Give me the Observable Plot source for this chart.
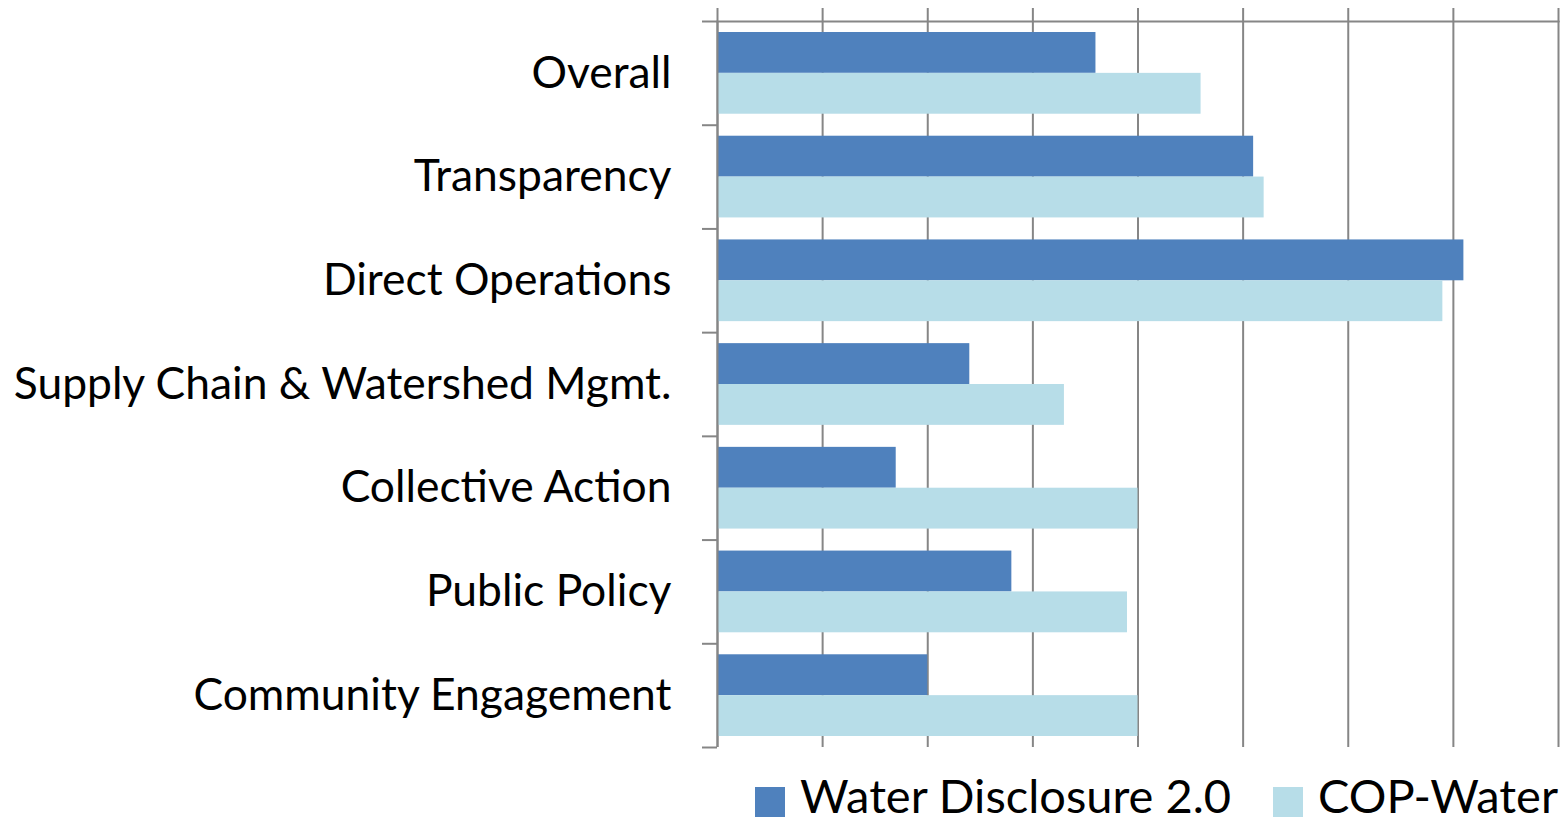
<!DOCTYPE html>
<html>
<head>
<meta charset="utf-8">
<script src="https://cdn.jsdelivr.net/npm/d3@7"></script>
<script src="https://cdn.jsdelivr.net/npm/@observablehq/plot@0.6"></script>
<style>
  html, body { margin: 0; padding: 0; background: #fff; overflow: hidden; }
  #chart { width: 1561px; }
  .legend { display: flex; justify-content: flex-end; align-items: center; height: 70px;
            font-family: Lato, "Open Sans", sans-serif; font-size: 47px; line-height: 1; color: #000; padding-right: 3px; }
  .legend .item { display: flex; align-items: center; margin-left: 42px; }
  .legend .sw { width: 30px; height: 30px; margin-right: 15px; margin-top: 14px; }
</style>
</head>
<body>
<div id="chart"></div>
<script>
const categories = ["Overall", "Transparency", "Direct Operations", "Supply Chain & Watershed Mgmt.", "Collective Action", "Public Policy", "Community Engagement"];
const seriesNames = ["Water Disclosure 2.0", "COP-Water"];
const waterDisclosure = [3.6, 5.1, 7.1, 2.4, 1.7, 2.8, 2.0];
const copWater = [4.6, 5.2, 6.9, 3.3, 4.0, 3.9, 4.0];
const seriesColors = ["#4F81BD", "#B7DDE8"];
const xTicks = [0, 1, 2, 3, 4, 5, 6, 7, 8];

const rows = [];
categories.forEach((c, i) => {
  rows.push({category: c, series: seriesNames[0], value: waterDisclosure[i]});
  rows.push({category: c, series: seriesNames[1], value: copWater[i]});
});

const W = 1561, H = 760, mt = 21, mb = 13, ml = 717, mr = 3;
const step = (H - mt - mb) / categories.length;
const gap = 11;
const barH = (step - 2 * gap) / 2;
const gridColor = "#868686";

const plot = Plot.plot({
  width: W, height: H,
  marginTop: mt, marginBottom: mb, marginLeft: ml, marginRight: mr,
  style: {fontFamily: "Lato, 'Open Sans', sans-serif", fontSize: "44px", color: "#000", background: "#fff"},
  x: {domain: [0, 8], axis: null, label: null},
  y: {domain: categories, padding: 0, round: false, axis: null, label: null},
  color: {domain: seriesNames, range: seriesColors},
  marks: [
    Plot.gridX(xTicks, {stroke: gridColor, strokeOpacity: 1, strokeWidth: 2}),
    Plot.barX(rows.filter(d => d.series === seriesNames[0]), {
      y: "category", x: "value", fill: "series",
      insetTop: gap, insetBottom: gap + barH
    }),
    Plot.barX(rows.filter(d => d.series === seriesNames[1]), {
      y: "category", x: "value", fill: "series",
      insetTop: gap + barH, insetBottom: gap
    }),
    Plot.axisX(xTicks, {anchor: "top", tickSize: 14, tickFormat: () => "", label: null, stroke: gridColor, strokeWidth: 2}),
    Plot.frame({anchor: "top", stroke: gridColor, strokeWidth: 2}),
    Plot.ruleX([0], {stroke: gridColor, strokeWidth: 2}),
    Plot.axisY({tickSize: 15, tickFormat: () => "", label: null, dy: -step / 2, stroke: gridColor, strokeWidth: 2}),
    Plot.axisY([categories[categories.length - 1]], {tickSize: 15, tickFormat: () => "", label: null, dy: step / 2, stroke: gridColor, strokeWidth: 2}),
    Plot.axisY({tickSize: 0, tickPadding: 46, label: null, fill: "#000", fontSize: 44.4})
  ]
});

document.getElementById("chart").appendChild(plot);

const legend = document.createElement("div");
legend.className = "legend";
seriesNames.forEach((s, i) => {
  const item = document.createElement("div");
  item.className = "item";
  const sw = document.createElement("div");
  sw.className = "sw";
  sw.style.background = seriesColors[i];
  const t = document.createElement("span");
  t.textContent = s;
  item.appendChild(sw);
  item.appendChild(t);
  legend.appendChild(item);
});
document.getElementById("chart").appendChild(legend);
</script>
</body>
</html>
